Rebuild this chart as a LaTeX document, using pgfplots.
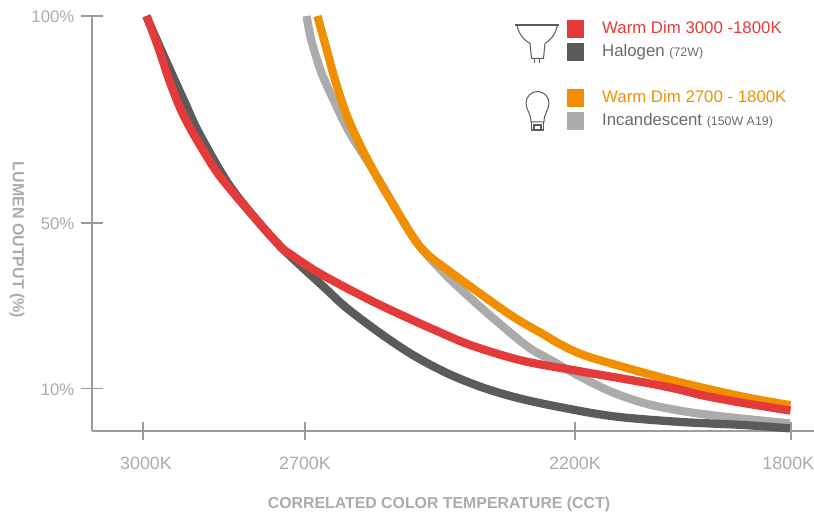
\documentclass[border=0pt]{standalone}
\usepackage{fontspec}
\setmainfont{Liberation Sans}
\usepackage{pgfplots}
\pgfplotsset{compat=1.18}
\definecolor{cRed}{HTML}{E53A3A}
\definecolor{cDark}{HTML}{5B5B5B}
\definecolor{cOrange}{HTML}{F09000}
\definecolor{cLight}{HTML}{ABABAB}
\definecolor{cAxis}{HTML}{9C9C9C}
\definecolor{cText}{HTML}{ABABAB}
\definecolor{cLeg}{HTML}{6B6B6B}
\pgfplotsset{
  curve/.style={line width=6.2pt,smooth,tension=0.55,line cap=butt,line join=round,no markers},
  swatch/.style={legend image code/.code={\fill[##1,draw=none] (0pt,-6.55pt) rectangle (13.1pt,6.55pt);}},
}
\begin{document}
\begin{tikzpicture}
\path[use as bounding box] (0,0) rectangle (610.5pt,386.25pt);
\begin{axis}[
  at={(69pt,63pt)},anchor=south west,
  scale only axis,width=541.5pt,height=311.25pt,
  x dir=reverse,
  xmin=1757.4,xmax=3094.4,ymin=-0.24,ymax=100,
  axis x line=bottom,axis y line=left,
  axis line style={-,draw=cAxis,line width=1.15pt},
  clip=false,
  tick align=center,
  xtick={3000,2700,2200,1800},
  xticklabels={{\hspace*{4.5pt}3000K},2700K,2200K,{1800K\hspace*{4pt}}},
  ytick={10,50,100},
  yticklabels={10\%,50\%,100\%},
  minor tick num=0,
  xtick style={draw=cAxis,line width=1.1pt,/pgfplots/major tick length=13.5pt},
  ytick style={draw=cAxis,line width=1.1pt,/pgfplots/major tick length=16.5pt},
  xticklabel style={font=\fontsize{13.4}{15}\selectfont,text=cText,yshift=-14pt},
  yticklabel style={font=\fontsize{12.6}{15}\selectfont,text=cText,xshift=-7.5pt,yshift=-0.8pt},
  xlabel={CORRELATED COLOR TEMPERATURE (CCT)},
  ylabel={LUMEN OUTPUT (\%)},
  xlabel style={at={(axis description cs:0.4806,-0.178)},anchor=center,font=\bfseries\fontsize{11.9}{13}\selectfont,text=cText},
  ylabel style={at={(axis description cs:-0.104,0.46)},anchor=center,rotate=180,font=\bfseries\fontsize{12}{13}\selectfont,text=cText},
  legend style={at={(axis description cs:0.6575,0.996)},anchor=north west,draw=none,fill=none,inner sep=0pt,outer sep=0pt,
    row sep=0pt,column sep=13.5pt,
    nodes={inner sep=0pt,outer sep=0pt,text height=12.2pt,text depth=5.05pt,anchor=west},
    font=\fontsize{12.6}{15}\selectfont},
  legend cell align=left,
]
\addlegendimage{swatch,fill=cRed}
\addlegendentry[text=cRed]{Warm Dim 3000 -1800K}
\addlegendimage{swatch,fill=cDark}
\addlegendentry[text=cLeg]{Halogen {\fontsize{9.3}{11}\selectfont(72W)}}
\addlegendimage{empty legend}
\addlegendentry{}
\addlegendimage{swatch,fill=cOrange}
\addlegendentry[text=cOrange]{Warm Dim 2700 - 1800K}
\addlegendimage{swatch,fill=cLight}
\addlegendentry[text=cLeg]{Incandescent {\fontsize{9.3}{11}\selectfont(150W A19)}}

% incandescent
\addplot[curve,color=cLight,forget plot] coordinates {
(2697,100)(2688,94)(2670,86.5)(2648,80)(2618,72)(2574,62.8)(2512,49.1)(2487,44.3)(2465,41)(2428,36)
(2376,29.8)(2326,24.2)(2283,19.7)(2246,17)(2196,13.3)(2134,9.3)(2072,6.5)(2011,4.8)(1949,3.6)(1887,2.7)(1802,1.6)
};
% halogen
\addplot[curve,color=cDark,forget plot] coordinates {
(2994,100)(2955,88.5)(2922,79)(2896,71.7)(2843,59.7)(2791,51)(2739,43.5)(2663,34.3)(2623,29.5)(2561,23.4)(2500,18.1)
(2438,13.8)(2376,10.5)(2315,8.05)(2246,6)(2134,3.4)(2011,2)(1887,1.2)(1802,0.4)
};
% warm dim 2700
\addplot[curve,color=cOrange,forget plot] coordinates {
(2677,100)(2660,92)(2643,84)(2618,74.5)(2574,62.8)(2512,49.1)(2487,44.3)(2465,41.5)(2431,38.2)(2389,34.2)
(2315,27.4)(2257,23)(2230,20.9)(2190,18.4)(2134,16.1)(2011,11.7)(1887,8)(1801,6)
};
% warm dim 3000
\addplot[curve,color=cRed,forget plot] coordinates {
(2993,100)(2970,91.8)(2950,84)(2925,76)(2887,67.2)(2848,59.7)(2752,45.2)(2725,42.3)(2667,37.4)(2561,30.2)(2438,22.9)
(2382,20)(2296,16.7)(2196,14.3)(2072,11.5)(2011,9.9)(1961,8.3)(1887,6.5)(1801,4.7)
};
\end{axis}
% lamp icons, in pixel units of the page
\begin{scope}[x=0.75pt,y=-0.75pt,shift={(0pt,386.25pt)},draw=cDark,line width=0.75pt,line join=round]
\draw[line width=1pt] (515.3,25) -- (559.3,25);
\draw (517.3,26) .. controls (519,36) and (526,41) .. (530,43.5) -- (531.5,58.3) -- (543.5,58.3) -- (545,43.5) .. controls (549,41) and (555,36) .. (557.3,26);
\draw (534.5,58.3) -- (534.5,63.3) (539.8,58.3) -- (539.8,63.3);
\draw (531,122) .. controls (531,113) and (526,110) .. (526,103) arc (180:360:11.5) .. controls (549,110) and (544,113) .. (544,122) -- cycle;
\draw[line width=1pt] (531.5,122) -- (531.5,130) -- (543.5,130) -- (543.5,122);
\fill[cDark] (533,124) rectangle (542,131);
\fill[white] (535,126) rectangle (540,129);
\end{scope}
\end{tikzpicture}
\end{document}
